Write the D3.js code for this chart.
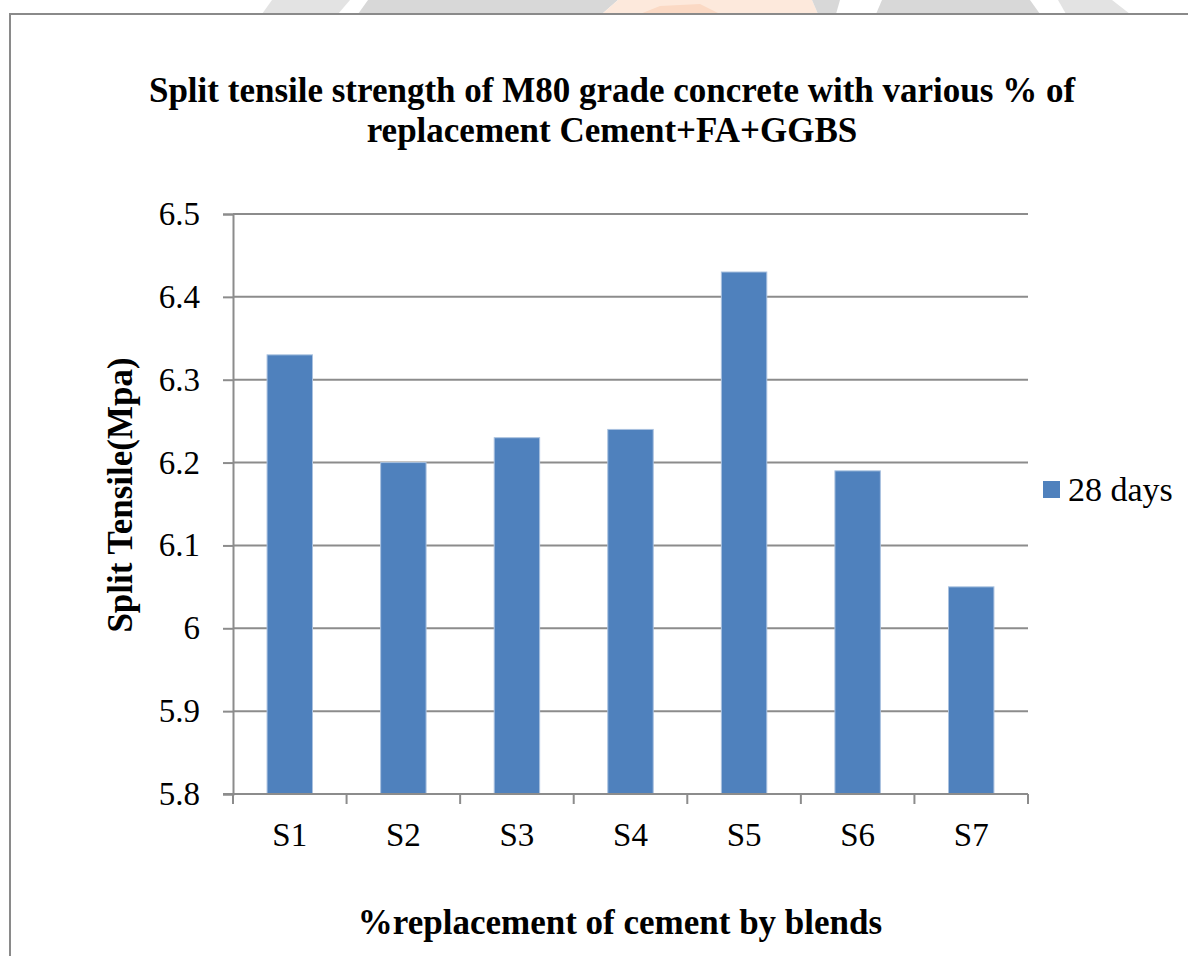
<!DOCTYPE html>
<html>
<head>
<meta charset="utf-8">
<script src="https://cdn.jsdelivr.net/npm/d3@7/dist/d3.min.js"></script>
<style>
  html, body { margin: 0; padding: 0; background: #fff; }
  svg { display: block; }
</style>
</head>
<body>
<script>
// Chart data
const categories = ["S1", "S2", "S3", "S4", "S5", "S6", "S7"];
const strength28 = [6.33, 6.20, 6.23, 6.24, 6.43, 6.19, 6.05];
const yTicks = [5.8, 5.9, 6.0, 6.1, 6.2, 6.3, 6.4, 6.5];
const seriesName = "28 days";
const titleLines = [
  "Split tensile strength of M80 grade concrete with various % of",
  "replacement Cement+FA+GGBS"
];
const yTitle = "Split Tensile(Mpa)";
const xTitle = "%replacement of cement by blends";

const W = 1188, H = 956;
const serif = "'Liberation Serif', 'Times New Roman', serif";
const barColor = "#4F81BD";
const gridColor = "#8c8c8c";

const svg = d3.select("body").append("svg")
  .attr("width", W).attr("height", H);

// Faint page decoration above the chart frame
const deco = svg.append("g");
deco.append("path").attr("d", "M272,0 L350,0 L338,14 L262,14 Z").attr("fill", "#e3e3e3");
deco.append("path").attr("d", "M368,0 L618,0 L602,14 L358,14 Z").attr("fill", "#d8d8d8");
deco.append("path").attr("d", "M618,0 L812,0 L818,14 L602,14 Z").attr("fill", "#fde9dc");
deco.append("path").attr("d", "M640,14 L660,6 L700,4 L720,14 Z").attr("fill", "#fbd9c4");
deco.append("path").attr("d", "M812,0 L840,0 L836,14 L818,14 Z").attr("fill", "#d8d8d8");
deco.append("path").attr("d", "M882,0 L1030,0 L1040,14 L876,14 Z").attr("fill", "#d8d8d8");
deco.append("path").attr("d", "M1058,0 L1112,0 L1130,14 L1066,14 Z").attr("fill", "#e3e3e3");

// Chart frame
svg.append("path")
  .attr("d", `M10,${H} L10,14 L${W},14`)
  .attr("fill", "none").attr("stroke", "#8a8a8a").attr("stroke-width", 2);

// Plot area
const plot = { left: 233, right: 1028, top: 214, bottom: 794 };

const x = d3.scaleBand()
  .domain(categories)
  .range([plot.left, plot.right])
  .paddingInner(0.6).paddingOuter(0.3);

const y = d3.scaleLinear()
  .domain([5.8, 6.5])
  .range([plot.bottom, plot.top]);

// Horizontal gridlines
svg.append("g").selectAll("line")
  .data(yTicks.slice(1))
  .join("line")
  .attr("x1", plot.left).attr("x2", plot.right)
  .attr("y1", d => y(d)).attr("y2", d => y(d))
  .attr("stroke", gridColor).attr("stroke-width", 2);

// Y axis
const yAxis = svg.append("g")
  .attr("transform", `translate(${plot.left},0)`)
  .call(d3.axisLeft(y).tickValues(yTicks).tickSize(10).tickPadding(23)
    .tickFormat(d => d3.format("~g")(+d.toFixed(1))));
yAxis.select(".domain").attr("stroke", gridColor).attr("stroke-width", 2);
yAxis.selectAll(".tick line").attr("stroke", gridColor).attr("stroke-width", 2);
yAxis.selectAll(".tick text")
  .attr("font-family", serif).attr("font-size", 33).attr("fill", "#000");

// Bars
svg.append("g").selectAll("rect")
  .data(categories.map((c, i) => ({ c, v: strength28[i] })))
  .join("rect")
  .attr("x", d => x(d.c))
  .attr("width", x.bandwidth())
  .attr("y", d => y(d.v))
  .attr("height", d => y(5.8) - y(d.v))
  .attr("fill", barColor)
  .attr("stroke", "#a9c1df").attr("stroke-width", 1);

// X axis with ticks on category boundaries
const xAxisG = svg.append("g");
xAxisG.append("line")
  .attr("x1", plot.left - 10).attr("x2", plot.right)
  .attr("y1", plot.bottom).attr("y2", plot.bottom)
  .attr("stroke", gridColor).attr("stroke-width", 2);
const boundaries = d3.range(categories.length + 1).map(i => plot.left + i * (plot.right - plot.left) / categories.length);
xAxisG.selectAll("line.tk")
  .data(boundaries)
  .join("line").attr("class", "tk")
  .attr("x1", d => d).attr("x2", d => d)
  .attr("y1", plot.bottom).attr("y2", plot.bottom + 10)
  .attr("stroke", gridColor).attr("stroke-width", 2);
xAxisG.selectAll("text")
  .data(categories)
  .join("text")
  .attr("x", d => x(d) + x.bandwidth() / 2)
  .attr("y", 846)
  .attr("text-anchor", "middle")
  .attr("font-family", serif).attr("font-size", 33).attr("fill", "#000")
  .text(d => d);

// Title
svg.append("g").selectAll("text")
  .data(titleLines)
  .join("text")
  .attr("x", 612)
  .attr("y", (d, i) => 102 + i * 40)
  .attr("text-anchor", "middle")
  .attr("font-family", serif).attr("font-weight", "bold").attr("font-size", 35)
  .attr("fill", "#000")
  .text(d => d);

// Axis titles
svg.append("text")
  .attr("transform", `translate(132,495) rotate(-90)`)
  .attr("text-anchor", "middle")
  .attr("font-family", serif).attr("font-weight", "bold").attr("font-size", 35)
  .attr("fill", "#000")
  .text(yTitle);

svg.append("text")
  .attr("x", 620).attr("y", 934)
  .attr("text-anchor", "middle")
  .attr("font-family", serif).attr("font-weight", "bold").attr("font-size", 35)
  .attr("fill", "#000")
  .text(xTitle);

// Legend
const legend = svg.append("g").attr("transform", "translate(1043,481)");
legend.append("rect").attr("width", 17).attr("height", 17).attr("fill", barColor);
legend.append("text")
  .attr("x", 25).attr("y", 20)
  .attr("font-family", serif).attr("font-size", 34).attr("fill", "#000")
  .text(seriesName);
</script>
</body>
</html>
